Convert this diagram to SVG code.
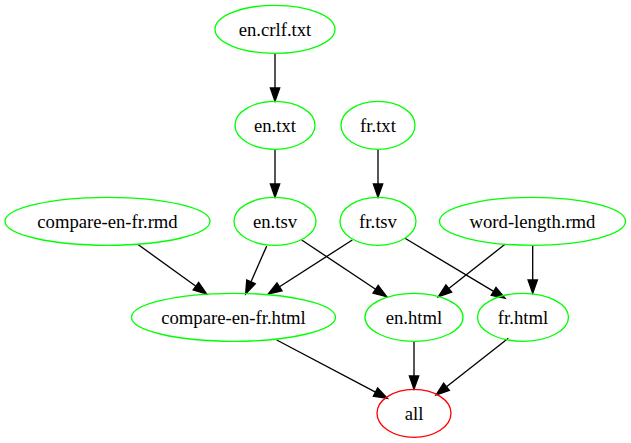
<svg xmlns="http://www.w3.org/2000/svg" width="631" height="443" viewBox="0 0 631 443">
<style>
.n ellipse{fill:none;stroke:#00ff00;stroke-width:1.33}
.n.red ellipse{stroke:#ff0000}
.n text{font-family:"Liberation Serif","Times New Roman",serif;font-size:18.67px;text-anchor:middle;fill:#000}
.e line{stroke:#000;stroke-width:1.33;marker-end:url(#ah)}
</style>
<defs>
<marker id="ah" markerUnits="userSpaceOnUse" markerWidth="14" markerHeight="10" refX="0" refY="4.67" orient="auto" overflow="visible">
<path d="M0,0 L13.33,4.67 L0,9.33 Z" fill="#000" stroke="#000" stroke-width="1.33"/>
</marker>
</defs>
<rect width="631" height="443" fill="#fff"/>
<g id="edges" class="e">
<line x1="275" y1="53.3" x2="275" y2="88"/>
<line x1="275" y1="149.3" x2="275" y2="184"/>
<line x1="378" y1="149.3" x2="378" y2="184"/>
<line x1="137.7" y1="244.3" x2="195.9" y2="286.2"/>
<line x1="266.7" y1="246" x2="251" y2="281.8"/>
<line x1="352.3" y1="240" x2="279.5" y2="286.8"/>
<line x1="301.7" y1="240" x2="375.6" y2="289.3"/>
<line x1="405" y1="238.3" x2="493.6" y2="291.4"/>
<line x1="505" y1="244.3" x2="448.8" y2="288.5"/>
<line x1="532.7" y1="245.3" x2="532.7" y2="280"/>
<line x1="276.7" y1="340" x2="375.5" y2="392.1"/>
<line x1="414" y1="341.3" x2="414" y2="376"/>
<line x1="508.3" y1="338.3" x2="446.5" y2="386.8"/>
</g>
<g id="en_crlf_txt" class="n"><ellipse cx="275" cy="29.3" rx="60" ry="24"/><text x="275" y="36">en.crlf.txt</text></g>
<g id="en_txt" class="n"><ellipse cx="275" cy="125.3" rx="40" ry="24"/><text x="275" y="132">en.txt</text></g>
<g id="fr_txt" class="n"><ellipse cx="378" cy="125.3" rx="37" ry="24"/><text x="378" y="132">fr.txt</text></g>
<g id="compare_en_fr_rmd" class="n"><ellipse cx="107.5" cy="221.3" rx="102.5" ry="24"/><text x="107.5" y="228">compare-en-fr.rmd</text></g>
<g id="en_tsv" class="n"><ellipse cx="275" cy="221.3" rx="41" ry="24"/><text x="275" y="228">en.tsv</text></g>
<g id="fr_tsv" class="n"><ellipse cx="378" cy="221.3" rx="38" ry="24"/><text x="378" y="228">fr.tsv</text></g>
<g id="word_length_rmd" class="n"><ellipse cx="532.5" cy="221.3" rx="93" ry="24"/><text x="532.5" y="228">word-length.rmd</text></g>
<g id="compare_en_fr_html" class="n"><ellipse cx="233.5" cy="317.3" rx="102" ry="24"/><text x="233.5" y="324">compare-en-fr.html</text></g>
<g id="en_html" class="n"><ellipse cx="414" cy="317.3" rx="49" ry="24"/><text x="414" y="324">en.html</text></g>
<g id="fr_html" class="n"><ellipse cx="523" cy="317.3" rx="45.5" ry="24"/><text x="523" y="324">fr.html</text></g>
<g id="all" class="n red"><ellipse cx="414" cy="413.3" rx="37" ry="24"/><text x="414" y="420">all</text></g>
</svg>
